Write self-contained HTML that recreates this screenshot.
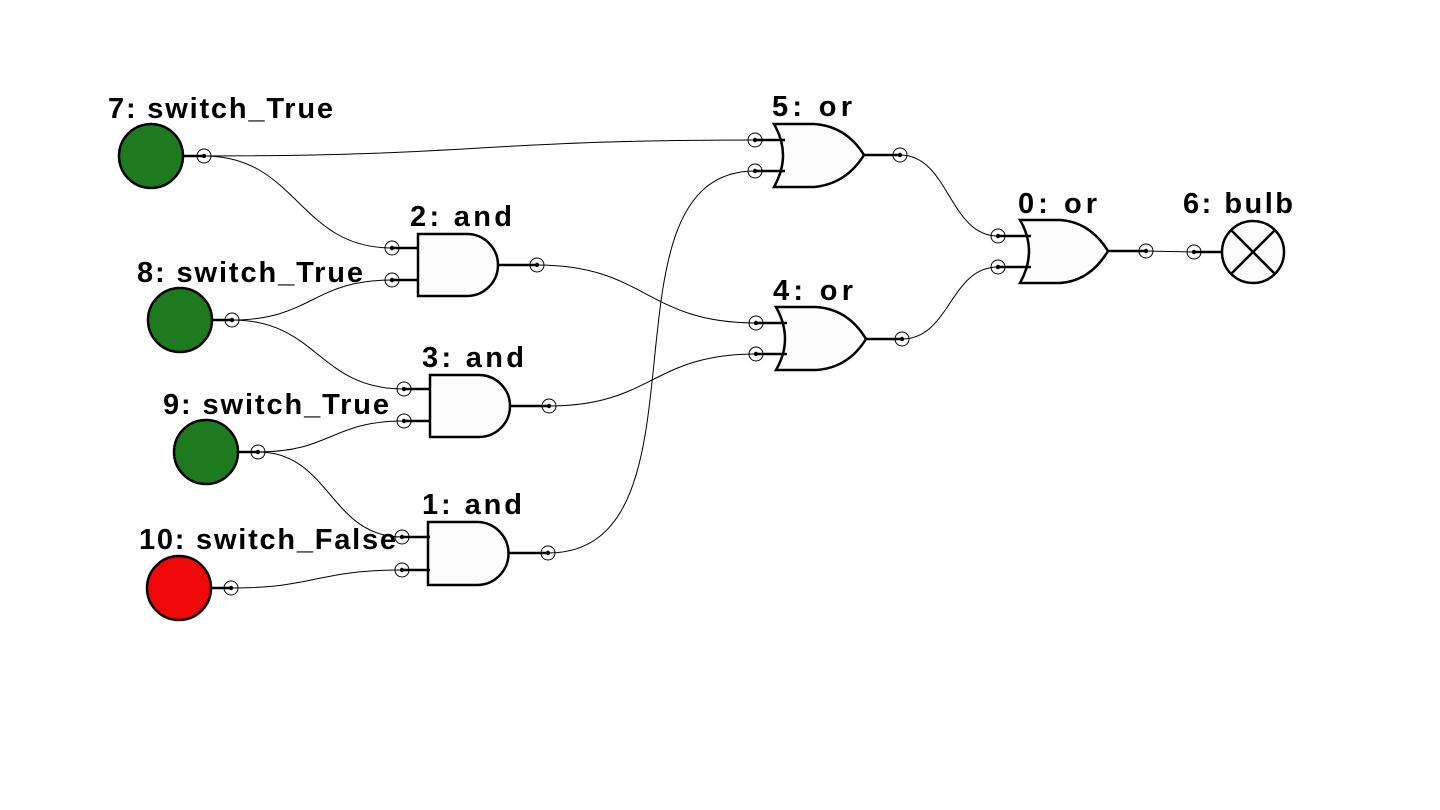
<!DOCTYPE html>
<html><head><meta charset="utf-8"><style>
html,body{margin:0;padding:0;background:#fff;}
svg{display:block}
text{font-family:"Liberation Sans",sans-serif;font-weight:bold;font-size:29px;fill:#000}
</style></head><body>
<svg width="1440" height="810" viewBox="0 0 1440 810" xmlns="http://www.w3.org/2000/svg">
<defs>
<g id="pin"><circle r="7" fill="none" stroke="#000" stroke-width="1"/><circle r="2.2" fill="#000"/></g>
</defs>
<g fill="none" stroke="#000" stroke-width="1">
<path d="M204,156 C480,156 480,140 755,140"/>
<path d="M204,156 C298,156 298,248 392,248"/>
<path d="M232,320 C312,320 312,280 392,280"/>
<path d="M232,320 C318,320 318,389 404,389"/>
<path d="M258,452 C331,452 331,421 404,421"/>
<path d="M258,452 C330,452 330,537 402,537"/>
<path d="M231,588 C316,588 316,570 402,570"/>
<path d="M537,265 C646,265 646,323 756,323"/>
<path d="M549,406 C652,406 652,354 756,354"/>
<path d="M548,553 C720,553 590,171 755,171"/>
<path d="M900,155 C949,155 949,236 998,236"/>
<path d="M902,339 C950,339 950,267 998,267"/>
<path d="M1146,251 L1194,252"/>
</g>
<g stroke="#000" stroke-width="2.5">
<circle cx="151" cy="156" r="32" fill="#1e7a1e"/>
<circle cx="180" cy="320" r="32" fill="#1e7a1e"/>
<circle cx="206" cy="452" r="32" fill="#1e7a1e"/>
<circle cx="179" cy="588" r="32" fill="#f00808"/>
<line x1="183" y1="156" x2="204" y2="156"/>
<line x1="212" y1="320" x2="232" y2="320"/>
<line x1="238" y1="452" x2="258" y2="452"/>
<line x1="211" y1="588" x2="231" y2="588"/>
</g>
<g stroke="#000" stroke-width="2.5" fill="#fcfcfc">
<path d="M418,234 H467 A31,31 0 0 1 467,296 H418 Z"/>
<path d="M392,248 H418 M392,280 H418 M498,265 H537" fill="none"/>
<path d="M430,375 H479 A31,31 0 0 1 479,437 H430 Z"/>
<path d="M404,389 H430 M404,421 H430 M510,406 H549" fill="none"/>
<path d="M428,522 H477 A31.5,31.5 0 0 1 477,585 H428 Z"/>
<path d="M402,537 H430 M402,570 H430 M508,553 H548" fill="none"/>
<path d="M774,124 H814 Q846,126 864,155 Q846,184 814,187 H774 Q792,155 774,124 Z"/>
<path d="M755,140 H785 M755,171 H785 M864,155 H900" fill="none"/>
<path d="M776,307 H816 Q848,309 866,339 Q848,368 816,370 H776 Q794,339 776,307 Z"/>
<path d="M756,323 H787 M756,354 H787 M866,339 H902" fill="none"/>
<path d="M1020,220 H1060 Q1090,222 1108,251 Q1090,281 1060,283 H1020 Q1038,251 1020,220 Z"/>
<path d="M998,236 H1031 M998,267 H1031 M1108,251 H1146" fill="none"/>
<circle cx="1253" cy="252" r="31"/>
<path d="M1231,230 L1275,274 M1275,230 L1231,274 M1194,252 H1222" fill="none"/>
</g>
<g>
<use href="#pin" x="204" y="156"/><use href="#pin" x="232" y="320"/><use href="#pin" x="258" y="452"/><use href="#pin" x="231" y="588"/>
<use href="#pin" x="392" y="248"/><use href="#pin" x="392" y="280"/><use href="#pin" x="537" y="265"/>
<use href="#pin" x="404" y="389"/><use href="#pin" x="404" y="421"/><use href="#pin" x="549" y="406"/>
<use href="#pin" x="402" y="537"/><use href="#pin" x="402" y="570"/><use href="#pin" x="548" y="553"/>
<use href="#pin" x="755" y="140"/><use href="#pin" x="755" y="171"/><use href="#pin" x="900" y="155"/>
<use href="#pin" x="756" y="323"/><use href="#pin" x="756" y="354"/><use href="#pin" x="902" y="339"/>
<use href="#pin" x="998" y="236"/><use href="#pin" x="998" y="267"/><use href="#pin" x="1146" y="251"/><use href="#pin" x="1194" y="252"/>
</g>
<text x="108" y="118" textLength="225" lengthAdjust="spacing">7: switch_True</text>
<text x="137" y="282" textLength="226" lengthAdjust="spacing">8: switch_True</text>
<text x="163" y="414" textLength="226" lengthAdjust="spacing">9: switch_True</text>
<text x="139" y="549" textLength="257" lengthAdjust="spacing">10: switch_False</text>
<text x="410" y="226" textLength="102" lengthAdjust="spacing">2: and</text>
<text x="422" y="367" textLength="102" lengthAdjust="spacing">3: and</text>
<text x="422" y="514" textLength="100" lengthAdjust="spacing">1: and</text>
<text x="772" y="116" textLength="80" lengthAdjust="spacing">5: or</text>
<text x="773" y="300" textLength="80" lengthAdjust="spacing">4: or</text>
<text x="1018" y="213" textLength="79" lengthAdjust="spacing">0: or</text>
<text x="1183" y="213" textLength="110" lengthAdjust="spacing">6: bulb</text>
</svg>
</body></html>
